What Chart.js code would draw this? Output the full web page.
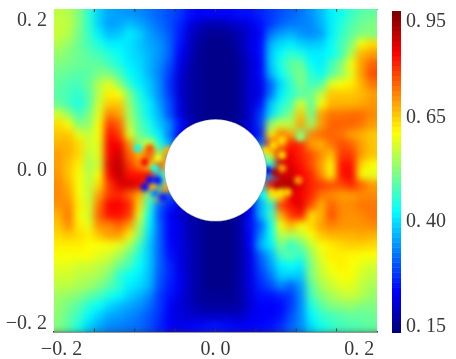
<!DOCTYPE html>
<html>
<head>
<meta charset="utf-8">
<style>
  html, body { margin: 0; padding: 0; background: #fff; overflow: hidden; }
  #field { position: absolute; left: 0; top: 0; }
  #bar { position: absolute; left: 380px; top: 0; }
</style>
<script src="https://cdn.jsdelivr.net/npm/chart.js@4"></script>
</head>
<body>
<canvas id="field" width="456" height="359"></canvas>
<canvas id="bar" width="76" height="359"></canvas>
<script>
const fieldRows = [
  [56,55,50,42,33,29,28,27,26,24,22,20,18,14,12,13,13,13,14,14,16,18,20,22,24,27,31,36,39,43,46,47],
  [57,56,50,42,33,28,29,31,29,26,23,20,16,10,7,5,5,7,8,10,14,18,22,24,25,26,30,36,41,45,48,50],
  [57,55,49,43,36,31,32,36,33,28,25,21,15,8,4,2,2,3,5,9,12,24,28,30,27,26,28,36,42,47,50,50],
  [55,52,48,44,40,36,36,35,32,29,27,22,14,7,3,1,1,2,5,10,13,30,34,36,33,32,33,38,44,50,62,66],
  [52,50,48,46,44,41,38,35,33,30,27,22,12,6,2,1,1,1,4,9,13,32,38,42,40,36,36,38,44,55,70,72],
  [50,49,48,47,47,44,40,36,34,30,26,20,10,5,2,1,1,1,3,8,12,32,40,47,48,38,36,44,50,62,72,78],
  [48,47,46,46,50,50,45,38,35,30,25,18,9,4,2,1,1,1,3,8,12,30,38,45,50,42,38,46,52,60,72,80],
  [47,45,44,48,55,60,52,42,36,32,26,17,8,4,2,1,1,1,3,8,11,22,34,42,50,44,45,60,62,64,70,76],
  [46,44,42,46,56,64,62,50,40,33,26,18,8,4,2,1,1,1,3,8,10,24,36,42,46,48,56,68,68,68,69,72],
  [48,44,40,46,58,68,68,52,42,36,28,20,9,4,2,1,1,1,3,8,14,32,40,45,60,46,62,70,70,70,71,73],
  [58,52,44,50,60,75,72,54,44,36,30,20,10,4,2,1,1,1,3,8,18,34,44,50,68,48,72,76,76,77,77,74],
  [66,62,50,52,62,82,78,56,46,40,32,26,14,6,3,2,2,2,4,9,18,52,58,55,72,52,72,78,78,78,76,72],
  [68,68,60,56,62,86,82,60,48,42,36,24,12,5,3,2,2,2,4,10,15,62,76,72,48,75,77,78,76,72,70,68],
  [70,70,66,58,60,88,88,74,52,62,40,30,10,3,2,2,2,2,3,14,25,84,70,86,84,72,70,76,80,78,72,68],
  [72,70,66,56,60,88,92,78,70,82,55,80,50,30,30,30,30,30,30,30,40,62,92,88,84,80,74,68,82,82,72,68],
  [72,68,64,54,58,90,94,82,74,60,82,60,40,40,40,40,40,40,40,40,40,40,92,90,86,80,72,62,86,86,66,62],
  [73,68,62,55,62,88,94,86,86,88,35,55,40,40,40,40,40,40,40,40,20,30,92,92,88,84,74,62,86,88,62,60],
  [74,70,62,56,66,82,90,92,90,80,30,60,40,40,40,40,40,40,40,40,40,88,94,96,90,84,82,80,80,84,78,72],
  [74,72,62,56,72,82,84,78,70,45,72,20,20,20,20,20,20,20,20,20,30,60,62,90,88,84,76,74,72,72,74,74],
  [73,74,64,58,76,88,88,84,66,42,22,15,10,6,3,3,3,3,6,10,30,40,82,86,90,80,70,78,74,74,76,76],
  [70,76,62,58,78,86,86,82,60,38,20,12,8,4,3,2,2,2,4,12,30,42,70,82,86,65,70,80,74,73,74,76],
  [68,74,64,60,74,74,78,72,54,36,22,12,10,5,3,1,1,1,4,14,22,38,62,70,62,66,72,75,73,73,73,74],
  [66,68,66,64,68,72,72,64,50,34,22,12,10,5,3,1,1,1,4,12,26,38,56,54,56,62,68,70,70,70,71,70],
  [64,64,64,62,62,62,60,54,44,32,22,13,10,6,3,1,1,1,4,12,30,36,50,42,48,56,62,64,66,67,67,66],
  [62,62,62,62,60,58,54,48,40,32,22,14,10,6,3,1,1,1,4,10,22,30,44,46,42,52,60,64,64,63,62,62],
  [60,60,58,58,56,54,48,44,38,32,22,16,10,6,3,1,1,1,4,10,20,28,36,38,36,50,58,62,64,62,60,58],
  [58,58,56,55,54,50,42,38,36,31,21,16,11,6,3,1,1,1,4,10,18,24,33,33,32,50,56,60,62,62,58,56],
  [56,56,54,53,50,46,42,36,34,30,20,15,11,6,3,1,1,1,4,10,16,20,26,22,28,46,54,57,60,60,56,54],
  [53,52,50,47,44,40,37,33,30,26,18,14,10,6,3,2,2,2,4,9,14,14,16,18,26,44,50,54,56,57,55,52],
  [52,49,46,41,38,34,31,29,27,23,18,12,9,6,4,3,3,3,4,9,12,12,13,18,26,40,46,50,51,52,50,50],
  [51,47,43,37,33,29,28,26,24,21,17,11,9,8,7,7,7,7,7,10,12,12,14,20,26,37,42,44,46,47,47,48],
  [50,46,40,33,29,26,25,24,23,20,16,12,11,12,13,14,14,13,12,12,13,14,17,22,26,34,39,42,44,45,46,47]
];

// small hot and cold spots next to the hole
const spotX = [-0.0814,-0.0876,-0.0963,-0.059,-0.0814,-0.0714,-0.0776,-0.0876,-0.0602,-0.0652,-0.0751,-0.0751,-0.0714,
  0.0615,0.0714,0.0826,0.0826,0.105,0.064,0.0739,0.0776,0.0702,0.0801,0.0894,0.059,0.0826,0.0987,0.1025];
const spotY = [0.0273,0.0099,0.0273,0.0248,-0.0124,-0.0124,-0.0211,-0.0211,-0.0211,-0.0335,-0.0286,0.0025,0.0149,
  0.0248,0.031,0.0373,0.0186,0.041,0,-0.0025,-0.0211,-0.0273,-0.0273,-0.0273,-0.031,0.0025,-0.0373,-0.0124];
const spotValues = [80,88,38,70,14,14,70,14,72,15,25,40,60,
  66,66,66,66,52,12,95,96,66,66,68,38,72,90,72];

const axisMin = -0.2;
const axisMax = 0.2;
const holeRadius = 0.0633;
const tickMarks = [-0.15, -0.1, -0.05, 0, 0.05, 0.1, 0.15];

const xLabelPos = [-0.1907, 0, 0.178];
const xLabels = ['\u22120. 2', '0. 0', '0. 2'];
const yLabelPos = [-0.191, 0, 0.186];
const yLabels = ['\u22120. 2', '0. 0', '0. 2'];

const barLevels = Array.from({ length: 64 }, (_, i) => i);
const barLabelPos = [0.019, 0.345, 0.668, 0.966];
const barLabels = ['0. 15', '0. 40', '0. 65', '0. 95'];

const textColor = '#3a3a3a';
const labelFont = { family: 'Liberation Serif', size: 20 };

function jet(f) {
  const ramp = (c) => Math.round(255 * Math.max(0, Math.min(1, 1.5 - Math.abs(4 * f - c))));
  return `rgb(${ramp(3)},${ramp(2)},${ramp(1)})`;
}

const cellSize = (axisMax - axisMin) / fieldRows[0].length;
const fieldPoints = [];
fieldRows.forEach((row, r) => {
  row.forEach((v, c) => {
    fieldPoints.push({ x: axisMin + (c + 0.5) * cellSize, y: axisMax - (r + 0.5) * cellSize, v: v });
  });
});
const spotPoints = spotX.map((x, i) => ({ x: x, y: spotY[i], v: spotValues[i] }));

// soften what was drawn so far, the cells should melt together
function blurArea(chart, px) {
  const a = chart.chartArea;
  const ctx = chart.ctx;
  ctx.save();
  ctx.beginPath();
  ctx.rect(a.left, a.top, a.right - a.left, a.bottom - a.top);
  ctx.clip();
  ctx.filter = `blur(${px}px)`;
  ctx.drawImage(chart.canvas, 0, 0);
  ctx.restore();
}

const softenPlugin = {
  id: 'soften',
  afterDatasetDraw(chart, args) {
    if (args.index === 0) blurArea(chart, 3);
    if (args.index === 1) blurArea(chart, 2);
  }
};

// fixed axis size and no extra room for overhanging labels
function fixAxis(prop, size) {
  return (scale) => {
    scale[prop] = size;
    scale.paddingTop = scale.paddingBottom = scale.paddingLeft = scale.paddingRight = 0;
  };
}

new Chart(document.getElementById('field').getContext('2d'), {
  type: 'scatter',
  plugins: [softenPlugin],
  data: {
    datasets: [
      {
        data: fieldPoints,
        order: 4,
        pointStyle: 'rect',
        borderWidth: 0,
        pointBorderWidth: 0,
        pointRadius: (c) => (c.chart.chartArea ? (c.chart.chartArea.width / fieldRows[0].length + 1) * Math.SQRT1_2 : 8),
        backgroundColor: (c) => jet(c.raw.v / 100)
      },
      {
        data: spotPoints,
        order: 3,
        pointStyle: 'circle',
        pointBorderWidth: 0,
        pointRadius: 4,
        backgroundColor: (c) => jet(c.raw.v / 100)
      },
      {
        data: [{ x: 0, y: 0 }],
        order: 2,
        pointStyle: 'circle',
        pointRadius: (c) => {
          const s = c.chart.scales.x;
          return s.getPixelForValue(holeRadius) - s.getPixelForValue(0);
        },
        backgroundColor: '#fff',
        borderColor: 'rgba(40,40,40,0.4)',
        pointBorderWidth: 0.7
      },
      {
        data: tickMarks.flatMap((x) => [{ x: x, y: axisMax }, { x: x, y: axisMin }]),
        order: 1,
        pointStyle: 'line',
        pointRotation: 90,
        pointRadius: 3,
        borderColor: '#333',
        pointBorderWidth: 1
      }
    ]
  },
  options: {
    responsive: false,
    animation: false,
    events: [],
    layout: { autoPadding: false, padding: { left: 0, right: 79, top: 0, bottom: 0 } },
    plugins: { legend: { display: false }, tooltip: { enabled: false } },
    scales: {
      x: {
        type: 'linear',
        position: 'bottom',
        min: axisMin,
        max: axisMax,
        afterFit: fixAxis('height', 27.5),
        afterBuildTicks: (s) => { s.ticks = xLabelPos.map((v) => ({ value: v })); },
        grid: { display: false, drawTicks: false },
        border: { display: true, color: '#333', width: 1.5 },
        ticks: {
          autoSkip: false,
          maxRotation: 0,
          padding: 6,
          color: textColor,
          font: labelFont,
          callback: (v, i) => xLabels[i]
        }
      },
      xTop: {
        type: 'linear',
        position: 'top',
        min: axisMin,
        max: axisMax,
        afterFit: fixAxis('height', 9),
        grid: { display: false, drawTicks: false },
        border: { display: true, color: '#8fa89a', width: 1 },
        ticks: { display: false }
      },
      y: {
        type: 'linear',
        min: axisMin,
        max: axisMax,
        afterFit: fixAxis('width', 54),
        afterBuildTicks: (s) => { s.ticks = yLabelPos.map((v) => ({ value: v })); },
        grid: { display: false, drawTicks: false },
        border: { display: false },
        ticks: {
          autoSkip: false,
          padding: 7,
          color: textColor,
          font: labelFont,
          callback: (v, i) => yLabels[i]
        }
      }
    }
  }
});

new Chart(document.getElementById('bar').getContext('2d'), {
  type: 'bar',
  data: {
    labels: barLevels,
    datasets: [{
      data: barLevels.map(() => 1),
      backgroundColor: barLevels.map((l) => jet(l / (barLevels.length - 1))),
      borderWidth: 0,
      barPercentage: 1.1,
      categoryPercentage: 1
    }]
  },
  options: {
    indexAxis: 'y',
    responsive: false,
    animation: false,
    events: [],
    layout: { autoPadding: false, padding: { left: 12, right: 0, top: 11, bottom: 26 } },
    plugins: { legend: { display: false }, tooltip: { enabled: false } },
    scales: {
      x: { min: 0, max: 1, display: false },
      y: { display: false, reverse: true },
      yLabels: {
        type: 'linear',
        position: 'right',
        min: 0,
        max: 1,
        offset: false,
        afterFit: fixAxis('width', 55),
        afterBuildTicks: (s) => { s.ticks = barLabelPos.map((v) => ({ value: v })); },
        grid: { display: false, drawTicks: false },
        border: { display: false },
        ticks: {
          autoSkip: false,
          padding: 5,
          color: textColor,
          font: labelFont,
          callback: (v, i) => barLabels[i]
        }
      }
    }
  }
});
</script>
</body>
</html>
